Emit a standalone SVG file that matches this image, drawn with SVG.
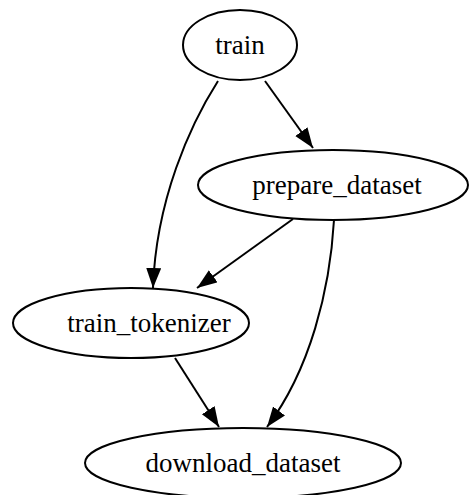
<svg xmlns="http://www.w3.org/2000/svg" width="470" height="495" viewBox="0 0 470 495">
<style>
.n ellipse{fill:#fff;stroke:#000;stroke-width:2}
.n text{font-family:"Liberation Serif","Times New Roman",serif;font-size:27px;fill:#000;text-anchor:middle}
.e path{fill:none;stroke:#000;stroke-width:2}
</style>
<defs>
<marker id="ah" markerUnits="userSpaceOnUse" markerWidth="22" markerHeight="16" refX="20" refY="7.5" orient="auto">
<path d="M0,0 L20,7.5 L0,15 Z" fill="#000"/>
</marker>
</defs>
<rect width="470" height="495" fill="#fff"/>
<g id="edges" class="e">
<path d="M265,81 L313,148" marker-end="url(#ah)"/>
<path d="M218,81 C190,125 156,200 153,288" marker-end="url(#ah)"/>
<path d="M293,219 L197,288" marker-end="url(#ah)"/>
<path d="M334,220 C330,290 310,370 267,427" marker-end="url(#ah)"/>
<path d="M175,358 L219,427" marker-end="url(#ah)"/>
</g>
<g id="train" class="n">
<ellipse cx="240" cy="45" rx="57" ry="35"/>
<text x="240" y="54">train</text>
</g>
<g id="prepare_dataset" class="n">
<ellipse cx="333" cy="185" rx="135" ry="35"/>
<text x="337" y="194">prepare_dataset</text>
</g>
<g id="train_tokenizer" class="n">
<ellipse cx="131" cy="323" rx="118" ry="35"/>
<text x="149" y="332">train_tokenizer</text>
</g>
<g id="download_dataset" class="n">
<ellipse cx="243" cy="463" rx="158" ry="35"/>
<text x="243" y="472">download_dataset</text>
</g>
</svg>
